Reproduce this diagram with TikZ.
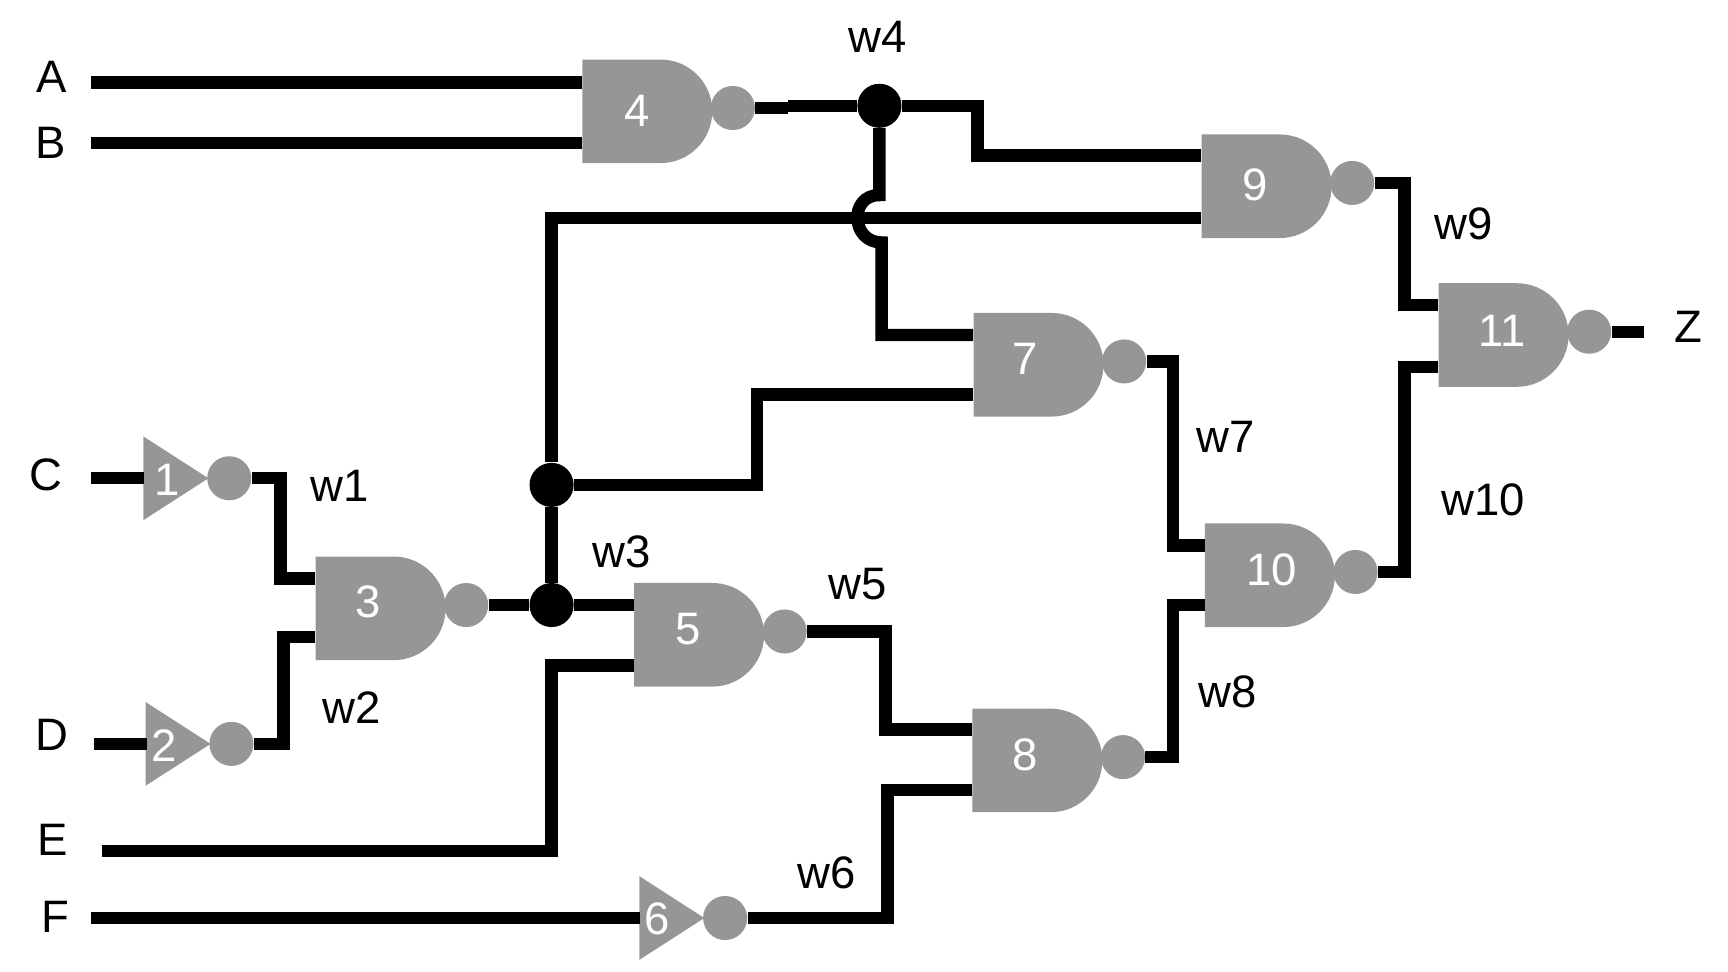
\documentclass[tikz,border=0pt]{standalone}
\usepackage{fontspec}
\setmainfont{Liberation Sans}
\usetikzlibrary{shapes.geometric,shapes.misc}
\definecolor{gategray}{HTML}{969696}
\tikzset{
  wire/.style={line width=0.225cm},
  nandbody/.style={rounded rectangle,rounded rectangle left arc=none,fill=gategray,
    minimum width=2.36cm,minimum height=1.88cm,inner sep=0,anchor=west},
  notbody/.style={isosceles triangle,isosceles triangle stretches,fill=gategray,
    minimum width=1.52cm,minimum height=1.18cm,inner sep=0,anchor=apex},
  bubble/.style={circle,fill=gategray,minimum size=0.8cm,inner sep=0},
  dot/.style={circle,fill=black,minimum size=0.8cm,inner sep=0},
  gatenum/.style={text=white,font=\fontsize{23.5}{24}\selectfont,inner sep=0},
  sig/.style={font=\fontsize{23.5}{24}\selectfont,inner sep=0},
}
\begin{document}
\begin{tikzpicture}[x=0.02cm,y=-0.02cm]
\useasboundingbox (0,0) rectangle (1568,882);

% nand gates
\foreach \n/\x/\y/\lx/\ly/\ia/\ib in {3/286/552/334/546/525/578,4/528/101/578/101/75/130,
    5/575/576/624/571/549/604,7/883/331/930/326/304/358,8/882/690/930/685/662/717,
    9/1090/169/1139/168/141/198,10/1093/522/1154/517/495/549,11/1305/304/1363/300/277/333}{
  \node [nandbody] (g\n) at (\x,\y) {};
  \node [gatenum] (t\n) at (\lx,\ly) {\n};
  \node [bubble] (b\n) at (\x+137,\y-3) {};
  \coordinate (g\n a) at (\x,\ia);
  \coordinate (g\n b) at (\x,\ib);
}

% inverters
\foreach \n/\x/\y/\lx/\ly in {1/190/434/152/435,2/192/675/149/677,6/640/833/596/834}{
  \node [notbody] (g\n) at (\x,\y) {};
  \node [gatenum] (t\n) at (\lx,\ly) {\n};
  \node [bubble] (b\n) at (\x+18,\y) {};
  \coordinate (g\n a) at (\x-59,\y);
}

% inputs
\foreach \s/\x/\y in {A/47/70,B/46/130,C/42/431,D/47/667,E/48/762,F/50/832,Z/1532/297}{
  \node [sig] (n\s) at (\x,\y) {\s};
}
\coordinate (inA) at (83,75);
\coordinate (inB) at (83,130);
\coordinate (inC) at (83,434);
\coordinate (inD) at (85,675);
\coordinate (inE) at (93,772);
\coordinate (inF) at (83,833);
\coordinate (outZ) at (1492,301);

% junctions
\node [dot] (j1) at (500.5,549) {};
\node [dot] (j2) at (500.5,440) {};
\node [dot] (j4) at (798,96) {};
\coordinate (jt) at (798,177);
\coordinate (jb) at (800,220);

\draw [wire] (inA) -- (g4a);
\draw [wire] (inB) -- (g4b);
\draw [wire] (inC) -- (g1a);
\draw [wire] (inD) -- (g2a);
\draw [wire] (inF) -- (g6a);
\draw [wire] (inE) -- ++(407.5,0) |- (g5b);

\draw [wire] (b1.east) -- ++(26,0) |- (g3a);
\draw [wire] (b2.east) -- ++(27,0) |- (g3b);
\draw [wire] (b3.east) -- (j1) -- (g5a);
\draw [wire] (j1) -- (j2);
\draw [wire] (j2) |- (g9b);
\draw [wire] (j2) -- ++(186.5,0) |- (g7b);
\draw [wire] (b4.east) -- ++(30,0);
\draw [wire] (j4) -- ++(-83,0);
\draw [wire] (j4) -- ++(89,0) |- (g9a);
\draw [wire] (j4) -- (jt) .. controls +(-28,0) and +(-28,0) .. (jb) |- (g7a);
\draw [wire] (b5.east) -- ++(71,0) |- (g8a);
\draw [wire] (b6.east) -- ++(127,0) |- (g8b);
\draw [wire] (b7.east) -- ++(24,0) |- (g10a);
\draw [wire] (b8.east) -- ++(25,0) |- (g10b);
\draw [wire] (b9.east) -- ++(27,0) |- (g11a);
\draw [wire] (b10.east) -- ++(24,0) |- (g11b);
\draw [wire] (b11.east) -- (outZ);

% wire names
\foreach \s/\x/\y in {w1/308/441,w2/319/642,w3/564/501,w4/796/33,w5/778/530,
    w6/750/792,w7/1112/396,w8/1114/628,w9/1328/203,w10/1346/454}{
  \node [sig] (n\s) at (\x,\y) {\s};
}

\end{tikzpicture}
\end{document}
